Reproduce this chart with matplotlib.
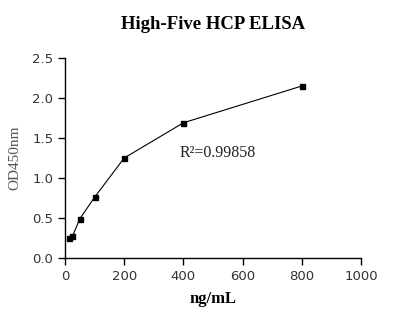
import matplotlib
matplotlib.use("Agg")
import matplotlib.pyplot as plt

conc = [12.5, 25, 50, 100, 200, 400, 800]
od = [0.25, 0.27, 0.49, 0.76, 1.25, 1.69, 2.15]
xticks = [0, 200, 400, 600, 800, 1000]
yticks = [0.0, 0.5, 1.0, 1.5, 2.0, 2.5]

fig = plt.figure(figsize=(4.02, 3.24), dpi=100)
ax = fig.add_axes([0.1617, 0.2037, 0.7363, 0.6173])
ax.plot(conc, od, color="black", lw=0.8, marker="s", ms=3.6)
ax.set_xlim(0, 1000)
ax.set_ylim(0, 2.5)
ax.set_xticks(xticks)
ax.set_yticks(yticks)
ax.set_yticklabels([f"{v:.1f}" for v in yticks])
for s in ["top", "right"]:
    ax.spines[s].set_visible(False)
for s in ["left", "bottom"]:
    ax.spines[s].set_linewidth(1.0)
ax.tick_params(direction="out", length=5, width=1, labelsize=9.5, colors="black")
for lab in ax.get_xticklabels() + ax.get_yticklabels():
    lab.set_color("#333333")
ax.set_title("High-Five HCP ELISA", fontfamily="Liberation Serif", fontweight="bold", fontsize=13.5, pad=21)
ax.set_xlabel("ng/mL", fontfamily="Liberation Serif", fontweight="bold", fontsize=12, labelpad=6)
ax.set_ylabel("OD450nm", fontfamily="Liberation Serif", fontsize=11, color="#555555", labelpad=8)
ax.text(388, 1.26, "R²=0.99858", fontfamily="Liberation Serif", fontsize=11.5, color="#222222")
fig.savefig("out.png", dpi=100)
